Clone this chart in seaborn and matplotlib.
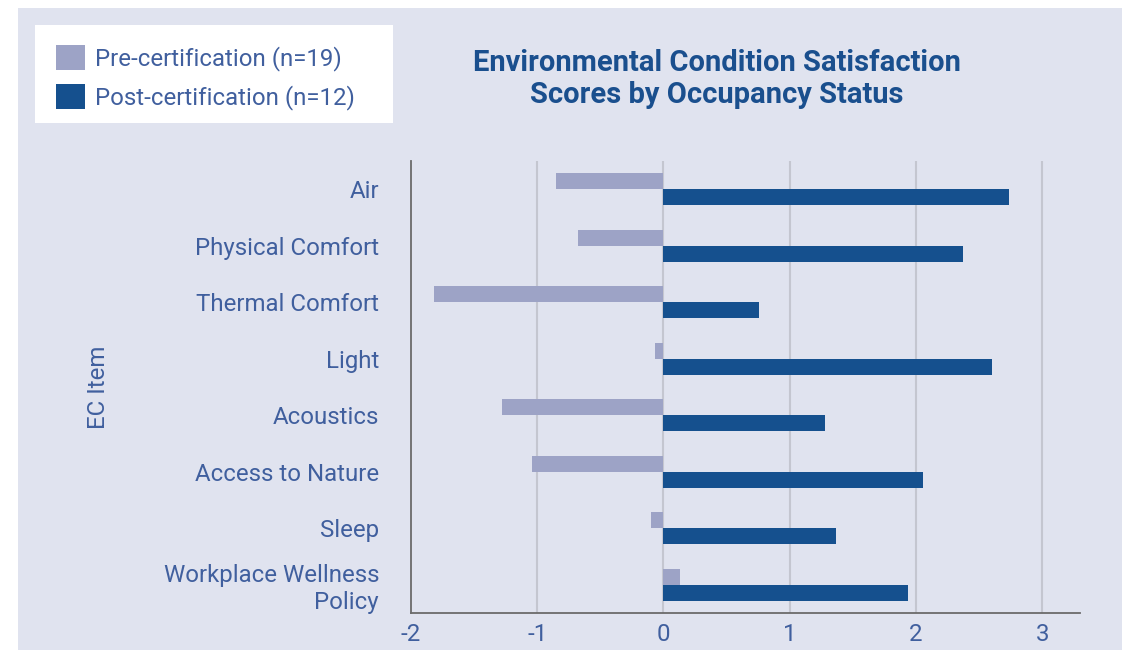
import pandas as pd
import numpy as np
import matplotlib
matplotlib.use("Agg")
import matplotlib.pyplot as plt
import seaborn as sns
from matplotlib.patches import Rectangle, Patch

items = ["Air", "Physical Comfort", "Thermal Comfort", "Light", "Acoustics",
         "Access to Nature", "Sleep", "Workplace Wellness\nPolicy"]
pre_scores = [-0.85, -0.68, -1.82, -0.07, -1.28, -1.04, -0.10, 0.13]
post_scores = [2.74, 2.37, 0.76, 2.60, 1.28, 2.06, 1.37, 1.94]
groups = ["Pre-certification (n=19)", "Post-certification (n=12)"]
x_ticks = [-2, -1, 0, 1, 2, 3]

df = pd.DataFrame({
    "item": items * 2,
    "score": pre_scores + post_scores,
    "group": [groups[0]] * len(items) + [groups[1]] * len(items),
})

bg = "#e0e3ef"
pre_col = "#9da3c6"
post_col = "#15508e"
txt = "#405f9e"
title_col = "#1a4f8e"

sns.set_style("white")
plt.rcParams["font.family"] = ["Roboto", "DejaVu Sans"]

fig = plt.figure(figsize=(11.31, 6.5), dpi=100)
fig.patch.set_facecolor("white")
# lavender panel + white legend box
fig.patches.append(Rectangle((18 / 1131, 0), 1104 / 1131, 642 / 650,
                             transform=fig.transFigure, facecolor=bg,
                             edgecolor="none", zorder=-10))
fig.patches.append(Rectangle((35 / 1131, 1 - 123 / 650), 358 / 1131, 98 / 650,
                             transform=fig.transFigure, facecolor="white",
                             edgecolor="none", zorder=-5))

ax = fig.add_axes([411 / 1131, 1 - 613 / 650, 669 / 1131, 452 / 650])
ax.set_facecolor(bg)
sns.barplot(data=df, y="item", x="score", hue="group", orient="h",
            palette=[pre_col, post_col], width=0.57, gap=0,
            saturation=1, linewidth=0, legend=False, ax=ax, zorder=3)

ax.set_xlim(-2, 3.3)
ax.set_ylim(7.5, -0.5)
ax.set_xticks(x_ticks)
ax.set_xticklabels([str(t) for t in x_ticks])
for t in x_ticks[1:]:
    ax.axvline(t, color="#c4c6d0", lw=1.5, zorder=1)

for s in ["top", "right"]:
    ax.spines[s].set_visible(False)
for s in ["left", "bottom"]:
    ax.spines[s].set_color("#6b6b6b")
    ax.spines[s].set_linewidth(1.3)

ax.tick_params(axis="y", length=0, pad=23, labelsize=17.3, labelcolor=txt)
ax.tick_params(axis="x", length=0, pad=7, labelsize=17.3, labelcolor=txt)
ax.set_xlabel("")
ax.set_ylabel("EC Item", fontsize=17.3, color=txt, labelpad=0)
ax.yaxis.set_label_coords(-0.45, 0.5)

fig.text(717 / 1131, 1 - 79 / 650,
         "Environmental Condition Satisfaction\nScores by Occupancy Status",
         ha="center", va="center", fontsize=21, fontweight="bold",
         color=title_col, linespacing=1.18)

handles = [Patch(facecolor=pre_col, edgecolor="none"),
           Patch(facecolor=post_col, edgecolor="none")]
leg = fig.legend(handles, groups, loc="upper left",
                 bbox_to_anchor=(56 / 1131, 1 - 45 / 650),
                 frameon=False, fontsize=17.3,
                 handlelength=1.2, handleheight=1.2, handletextpad=0.42,
                 labelspacing=0.55, borderpad=0, borderaxespad=0)
for t in leg.get_texts():
    t.set_color(txt)

fig.savefig("out.png", dpi=100)
